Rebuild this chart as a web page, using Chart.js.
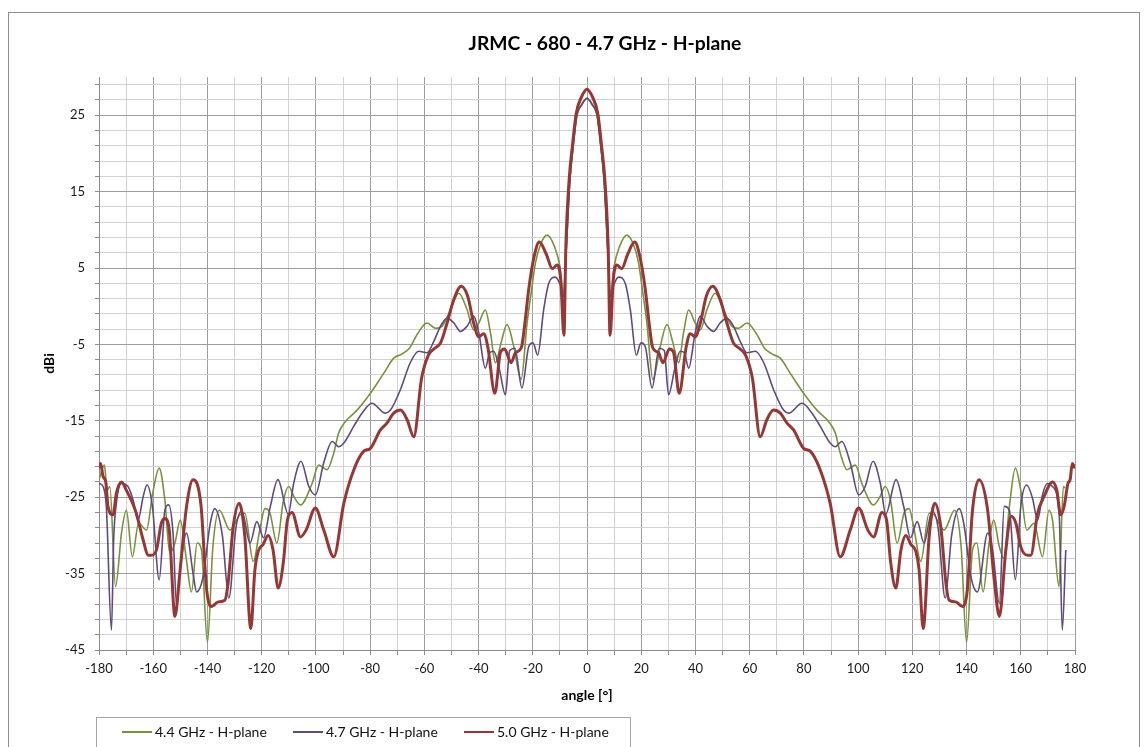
<!DOCTYPE html>
<html>
<head>
<meta charset="utf-8">
<title>JRMC - 680 - 4.7 GHz - H-plane</title>
<script src="https://cdn.jsdelivr.net/npm/chart.js@4.4.1/dist/chart.umd.min.js"></script>
<style>
  html, body { margin: 0; padding: 0; background: #fff; }
  canvas { display: block; }
</style>
</head>
<body>
<canvas id="chart" width="1146" height="747"></canvas>
<script>
const chartTitle = "JRMC - 680 - 4.7 GHz - H-plane";
const xTitle = "angle [°]";
const yTitle = "dBi";
const seriesNames = ["4.4 GHz - H-plane", "4.7 GHz - H-plane", "5.0 GHz - H-plane"];

const xMin = -180, xMax = 180, xStep = 10, xLabelStep = 20;
const yMin = -45, yMax = 30, yStep = 2, yLabelStep = 10;

// [angle in degrees, gain in dBi]
const s44 = [
  [-180,-22.7],[-178,-20.8],[-177,-24.1],[-176,-23.6],[-173.9,-36.7],[-171.7,-29.7],[-169.9,-26.7],[-167.7,-32.8],
  [-165.4,-28.4],[-162.5,-29.3],[-160.2,-24.5],[-157.8,-21.2],[-155.7,-25.4],[-153.9,-32.3],[-152,-31.0],[-150,-28.0],
  [-147.9,-32.8],[-145.9,-37.4],[-143.8,-31.0],[-142.2,-31.9],[-140,-44.0],[-138,-31.5],[-135.6,-26.7],[-131.7,-29.3],
  [-128,-27.3],[-126.2,-27.1],[-123.1,-33.4],[-120.7,-29.3],[-118.8,-26.5],[-117,-27.0],[-114.4,-31.0],[-112,-25.5],
  [-110,-23.6],[-108,-25.0],[-105.7,-26.0],[-101.4,-23.2],[-99,-20.8],[-95.9,-21.4],[-93.4,-19.2],[-91.6,-16.6],
  [-89.1,-15.1],[-84.8,-13.6],[-79.9,-11.4],[-75,-8.8],[-71.3,-6.8],[-68.5,-6.3],[-65.5,-5.5],[-62.5,-3.6],
  [-59,-2.2],[-55.9,-2.9],[-53.4,-2.6],[-50.4,-0.5],[-47.3,1.7],[-44.2,-0.5],[-41.8,-3.1],[-39.9,-2.2],
  [-37.5,-0.5],[-35.6,-3.5],[-33.8,-7.4],[-31.7,-4.8],[-29.5,-2.4],[-27,-5.3],[-24.3,-9.6],[-22.1,-2.2],
  [-20.5,2.0],[-19,5.7],[-17,8.2],[-14.7,9.3],[-12,7.8],[-10,5.2],[-8.8,1.5],[-7.6,7.8],
  [-6.3,16.5],[-5.1,20.9],[-3.7,25.0],[-2,26.4],[0,27.2],
  [2,26.4],[3.7,25.0],[5.1,20.9],[6.3,16.5],[7.6,7.8],[8.8,1.5],[10,5.2],[12,7.8],
  [14.7,9.3],[17,8.2],[19,5.7],[20.5,2.0],[22.1,-2.2],[24.3,-9.6],[27,-5.3],[29.5,-2.4],
  [31.7,-4.8],[33.8,-7.4],[35.6,-3.5],[37.5,-0.5],[39.9,-2.2],[41.8,-3.1],[44.2,-0.5],[47.3,1.7],
  [50.4,-0.5],[53.4,-2.6],[55.9,-2.9],[59,-2.2],[62.5,-3.6],[65.5,-5.5],[68.5,-6.3],[71.3,-6.8],
  [75,-8.8],[79.9,-11.4],[84.8,-13.6],[89.1,-15.1],[91.6,-16.6],[93.4,-19.2],[95.9,-21.4],[99,-20.8],
  [101.4,-23.2],[105.7,-26.0],[108,-25.0],[110,-23.6],[112,-25.5],[114.4,-31.0],[117,-27.0],[118.8,-26.5],
  [120.7,-29.3],[123.1,-33.4],[126.2,-27.1],[128,-27.3],[131.7,-29.3],[135.6,-26.7],[138,-31.5],[140,-44.0],
  [142.2,-31.9],[143.8,-31.0],[146.1,-37.4],[148.3,-31.0],[150,-28.0],[152.1,-31.5],[153.7,-33.0],[155.8,-26.2],
  [158,-21.2],[160,-24.1],[162.2,-29.3],[164.9,-28.4],[168,-32.8],[170.4,-26.7],[171.7,-28.0],[174.1,-36.7],
  [175.7,-23.6],[176.3,-23.8]
];

const s47 = [
  [-180,-23.2],[-178.5,-23.6],[-177.3,-26.2],[-175.4,-42.4],[-174.6,-30.6],[-173.6,-25.8],[-171.7,-23.2],[-169.3,-23.6],
  [-167.4,-25.4],[-165.6,-28.0],[-163.7,-24.9],[-162.3,-23.4],[-160.3,-26.2],[-157.8,-35.8],[-155.7,-26.7],[-154.3,-26.0],
  [-152.7,-29.7],[-151.4,-39.1],[-150,-34.1],[-147.7,-29.7],[-145.3,-35.0],[-144,-37.4],[-141.6,-35.4],[-139,-28.5],
  [-137.3,-26.5],[-134.5,-30.0],[-132.1,-38.2],[-129.5,-29.0],[-127.3,-26.8],[-124.3,-31.0],[-121.8,-28.2],[-119.3,-30.3],
  [-116.8,-26.2],[-114,-22.7],[-110.2,-27.2],[-108.2,-23.2],[-105.5,-20.3],[-102.6,-23.6],[-100.2,-24.7],[-97.1,-20.5],
  [-94,-17.7],[-91.6,-18.4],[-89.7,-17.9],[-86,-15.7],[-83,-14.0],[-79.3,-12.7],[-74.4,-14.0],[-72.5,-13.6],
  [-68.8,-10.9],[-65.2,-7.4],[-62.1,-5.9],[-59,-6.1],[-56.5,-4.6],[-54,-2.6],[-51.6,-1.6],[-49.1,-2.2],
  [-46.7,-3.3],[-44.2,-2.6],[-41.8,-1.3],[-39.9,-3.5],[-37.5,-8.1],[-35.9,-6.1],[-34.4,-5.9],[-32.3,-8.3],
  [-30.1,-11.6],[-28.5,-5.8],[-26.6,-5.5],[-24,-10.7],[-21.5,-5.3],[-19.9,-4.8],[-18.2,-6.4],[-16,-0.5],
  [-14.1,3.0],[-11.7,3.8],[-10,2.9],[-8.6,1.2],[-7.6,7.8],[-6.3,16.5],[-5.1,20.9],[-3.7,25.0],[-2,26.3],[0,27.2],
  [2,26.3],[3.7,25.0],[5.1,20.9],[6.3,16.5],[7.6,7.8],[8.6,1.2],[10,2.9],[11.7,3.8],[14.1,3.0],
  [16,-0.5],[18.2,-6.4],[19.9,-4.8],[21.5,-5.3],[24,-10.7],[26.6,-5.5],[28.5,-5.8],[30.1,-11.6],
  [32.3,-8.3],[34.4,-5.9],[35.9,-6.1],[37.5,-8.1],[39.9,-3.5],[41.8,-1.3],[44.2,-2.6],[46.7,-3.3],
  [49.1,-2.2],[51.6,-1.6],[54,-2.6],[56.5,-4.6],[59,-6.1],[62.1,-5.9],[65.2,-7.4],[68.8,-10.9],
  [72.5,-13.6],[74.4,-14.0],[79.3,-12.7],[83,-14.0],[86,-15.7],[89.7,-17.9],[91.6,-18.4],[94,-17.7],
  [97.1,-20.5],[100.2,-24.7],[102.6,-23.6],[105.5,-20.3],[108.2,-23.2],[110.2,-27.2],[114,-22.7],[116.8,-26.2],
  [119.3,-30.3],[121.8,-28.2],[124.3,-31.0],[127.3,-26.8],[129.5,-29.0],[132.1,-38.2],[134.5,-30.0],[137.3,-26.5],
  [139,-28.5],[141.6,-35.4],[144,-37.4],[147.8,-29.7],[149.6,-31.9],[152.1,-38.9],[153.9,-26.2],[155.8,-26.7],
  [158,-35.8],[160,-26.2],[162.2,-23.4],[164.3,-25.1],[166.2,-28.0],[168,-24.7],[169.8,-23.2],[171.7,-23.6],
  [174.2,-27.5],[175.3,-42.4],[176.6,-31.9]
];

const s50 = [
  [-180,-21.2],[-179.4,-20.6],[-178.5,-22.3],[-177.5,-23.0],[-176.7,-26.2],[-174.8,-27.3],[-173.6,-24.5],[-171.7,-23.0],
  [-169.9,-24.1],[-166.5,-26.8],[-163.7,-30.6],[-161.9,-32.6],[-160.7,-32.6],[-158.8,-31.9],[-157,-28.4],[-155.7,-27.8],
  [-154.1,-29.3],[-152,-40.6],[-150.2,-35.0],[-147.7,-26.2],[-145.3,-22.7],[-142.4,-26.0],[-140.3,-37.1],[-138.5,-39.3],
  [-136,-38.7],[-133.6,-38.5],[-132.4,-36.3],[-130.5,-28.9],[-128.3,-25.8],[-126.2,-30.2],[-124,-42.2],[-122.5,-34.5],
  [-121.3,-32.1],[-119.5,-31.2],[-117.6,-30.0],[-115.8,-31.9],[-113.9,-36.9],[-112,-33.5],[-110.5,-28.0],[-108.8,-27.0],
  [-105.7,-30.2],[-103.6,-29.3],[-100.2,-26.4],[-97.1,-29.3],[-93.4,-32.8],[-89.7,-25.8],[-86,-21.4],[-82.4,-19.0],
  [-79.9,-18.6],[-76.2,-16.2],[-73.8,-15.3],[-71.3,-14.0],[-68.8,-13.6],[-66.3,-14.9],[-63.9,-17.1],[-61,-9.4],
  [-58.5,-6.4],[-56.5,-5.6],[-54,-4.8],[-51.6,-2.2],[-49.1,0.9],[-46.4,2.6],[-44,1.3],[-41.8,-2.2],
  [-39.9,-4.0],[-38.1,-3.6],[-36.6,-5.3],[-34,-11.4],[-31.9,-6.0],[-30.4,-5.6],[-28,-7.4],[-26.4,-6.1],
  [-24.2,-5.4],[-23,-2.5],[-21.5,2.2],[-19.5,6.5],[-17.6,8.4],[-15,6.8],[-12.8,4.9],[-11,5.4],
  [-9.7,3.5],[-8.5,-3.8],[-7.8,7.8],[-6.6,16.5],[-5.4,20.9],[-4,25.2],[-2,27.4],[0,28.4],
  [2,27.4],[4,25.2],[5.4,20.9],[6.6,16.5],[7.8,7.8],[8.5,-3.8],[9.7,3.5],[11,5.4],
  [12.8,4.9],[15,6.8],[17.6,8.4],[19.5,6.5],[21.5,2.2],[23,-2.5],[24.2,-5.4],[26.4,-6.1],
  [28,-7.4],[30.4,-5.6],[31.9,-6.0],[34,-11.4],[36.6,-5.3],[38.1,-3.6],[39.9,-4.0],[41.8,-2.2],
  [44,1.3],[46.4,2.6],[49.1,0.9],[51.6,-2.2],[54,-4.8],[56.5,-5.6],[58.5,-6.4],[61,-9.4],
  [63.9,-17.1],[66.3,-14.9],[68.8,-13.6],[71.3,-14.0],[73.8,-15.3],[76.2,-16.2],[79.9,-18.6],[82.4,-19.0],
  [86,-21.4],[89.7,-25.8],[93.4,-32.8],[97.1,-29.3],[100.2,-26.4],[103.6,-29.3],[105.7,-30.2],[108.8,-27.0],
  [110.5,-28.0],[112,-33.5],[113.9,-36.9],[115.8,-31.9],[117.6,-30.0],[119.5,-31.2],[121.3,-32.1],[122.5,-34.5],
  [124,-42.2],[126.2,-30.2],[128.3,-25.8],[130.5,-28.9],[132.4,-36.3],[133.6,-38.5],[136,-38.7],[138.5,-39.3],
  [140.3,-37.1],[142.2,-26.7],[144.6,-22.7],[147.7,-26.5],[150.2,-35.8],[152.1,-40.6],[154.5,-31.9],[156.4,-27.5],
  [158.2,-28.4],[160,-31.5],[162.5,-32.6],[163.7,-32.6],[166.2,-27.1],[168.6,-24.9],[171.7,-23.0],[173.3,-24.1],
  [174.7,-27.3],[176,-26.2],[177.4,-23.2],[178.2,-22.7],[179,-20.6],[180,-21.2]
];

const colors = ["#77933C", "#604A7B", "#953735"];
const widths = [1.6, 1.6, 3];

function toPoints(series) {
  return series.map(([a, g]) => ({ x: a, y: g }));
}

const gridMajor = "#9d9d9d";
const gridMinor = "#d2d2d2";
const font = "Lato";

// frame, title and legend the way the spreadsheet draws them
const decor = {
  id: "decor",
  beforeDraw(chart) {
    const ctx = chart.ctx;
    ctx.save();
    ctx.fillStyle = "#fff";
    ctx.fillRect(0, 0, chart.width, chart.height);
    ctx.strokeStyle = "#8c8c8c";
    ctx.lineWidth = 1;
    ctx.strokeRect(8.5, 12.5, 1131, 800);
    ctx.restore();
  },
  afterDraw(chart) {
    const ctx = chart.ctx;
    ctx.save();
    ctx.fillStyle = "#000";
    ctx.textAlign = "center";
    ctx.textBaseline = "middle";
    ctx.font = `bold 19.3px ${font}`;
    ctx.fillText(chartTitle, 605, 44);

    ctx.strokeStyle = "#a6a6a6";
    ctx.lineWidth = 1;
    ctx.strokeRect(96.5, 717.5, 534, 60);
    ctx.font = `14px ${font}`;
    ctx.textAlign = "left";
    const itemX = [122, 293, 464];
    chart.data.datasets.forEach((ds, i) => {
      ctx.strokeStyle = ds.borderColor;
      ctx.lineWidth = 2;
      ctx.beginPath();
      ctx.moveTo(itemX[i], 732);
      ctx.lineTo(itemX[i] + 30, 732);
      ctx.stroke();
      ctx.fillStyle = "#111";
      ctx.fillText(ds.label, itemX[i] + 33, 732);
    });
    ctx.restore();
  }
};

new Chart(document.getElementById("chart"), {
  type: "line",
  data: {
    datasets: [s44, s47, s50].map((s, i) => ({
      label: seriesNames[i],
      data: toPoints(s),
      borderColor: colors[i],
      borderWidth: widths[i],
      pointRadius: 0,
      fill: false,
      tension: 0.4,
      cubicInterpolationMode: "monotone",
      order: 2 - i
    }))
  },
  options: {
    responsive: false,
    animation: false,
    devicePixelRatio: 1,
    layout: { padding: { left: 8, right: 71, top: 77, bottom: 42 } },
    plugins: {
      legend: { display: false },
      title: { display: false },
      tooltip: { enabled: false }
    },
    scales: {
      x: {
        type: "linear",
        min: xMin,
        max: xMax,
        afterFit: (s) => { s.height = 55; },
        ticks: {
          stepSize: xStep,
          autoSkip: false,
          maxRotation: 0,
          padding: 6,
          color: "#1a1a1a",
          font: { family: font, size: 13 },
          callback: (v) => (v % xLabelStep === 0 ? v : "")
        },
        grid: {
          color: (c) => (c.tick && c.tick.value % xLabelStep === 0 ? gridMajor : gridMinor),
          tickColor: "#8c8c8c",
          tickLength: 5
        },
        border: { color: "#8c8c8c" },
        title: {
          display: true,
          text: xTitle,
          color: "#000",
          font: { family: font, size: 14, weight: "bold" },
          padding: { top: 0, bottom: 1 }
        }
      },
      y: {
        min: yMin,
        max: yMax,
        afterFit: (s) => { s.width = 91; },
        afterBuildTicks: (s) => {
          const t = [];
          for (let v = yMin; v < yMax; v += yStep) t.push({ value: v });
          s.ticks = t;
        },
        ticks: {
          autoSkip: false,
          padding: 10,
          color: "#1a1a1a",
          font: { family: font, size: 13 },
          callback: (v) => ((v - yMin) % yLabelStep === 0 ? v : "")
        },
        grid: {
          color: (c) => (c.tick && (c.tick.value - yMin) % yLabelStep === 0 ? gridMajor : gridMinor),
          tickColor: "#8c8c8c",
          tickLength: 4
        },
        border: { color: "#8c8c8c" },
        title: {
          display: true,
          text: yTitle,
          color: "#000",
          font: { family: font, size: 14, weight: "bold" },
          padding: { top: 33, bottom: 0 }
        }
      }
    }
  },
  plugins: [decor]
});
</script>
</body>
</html>
